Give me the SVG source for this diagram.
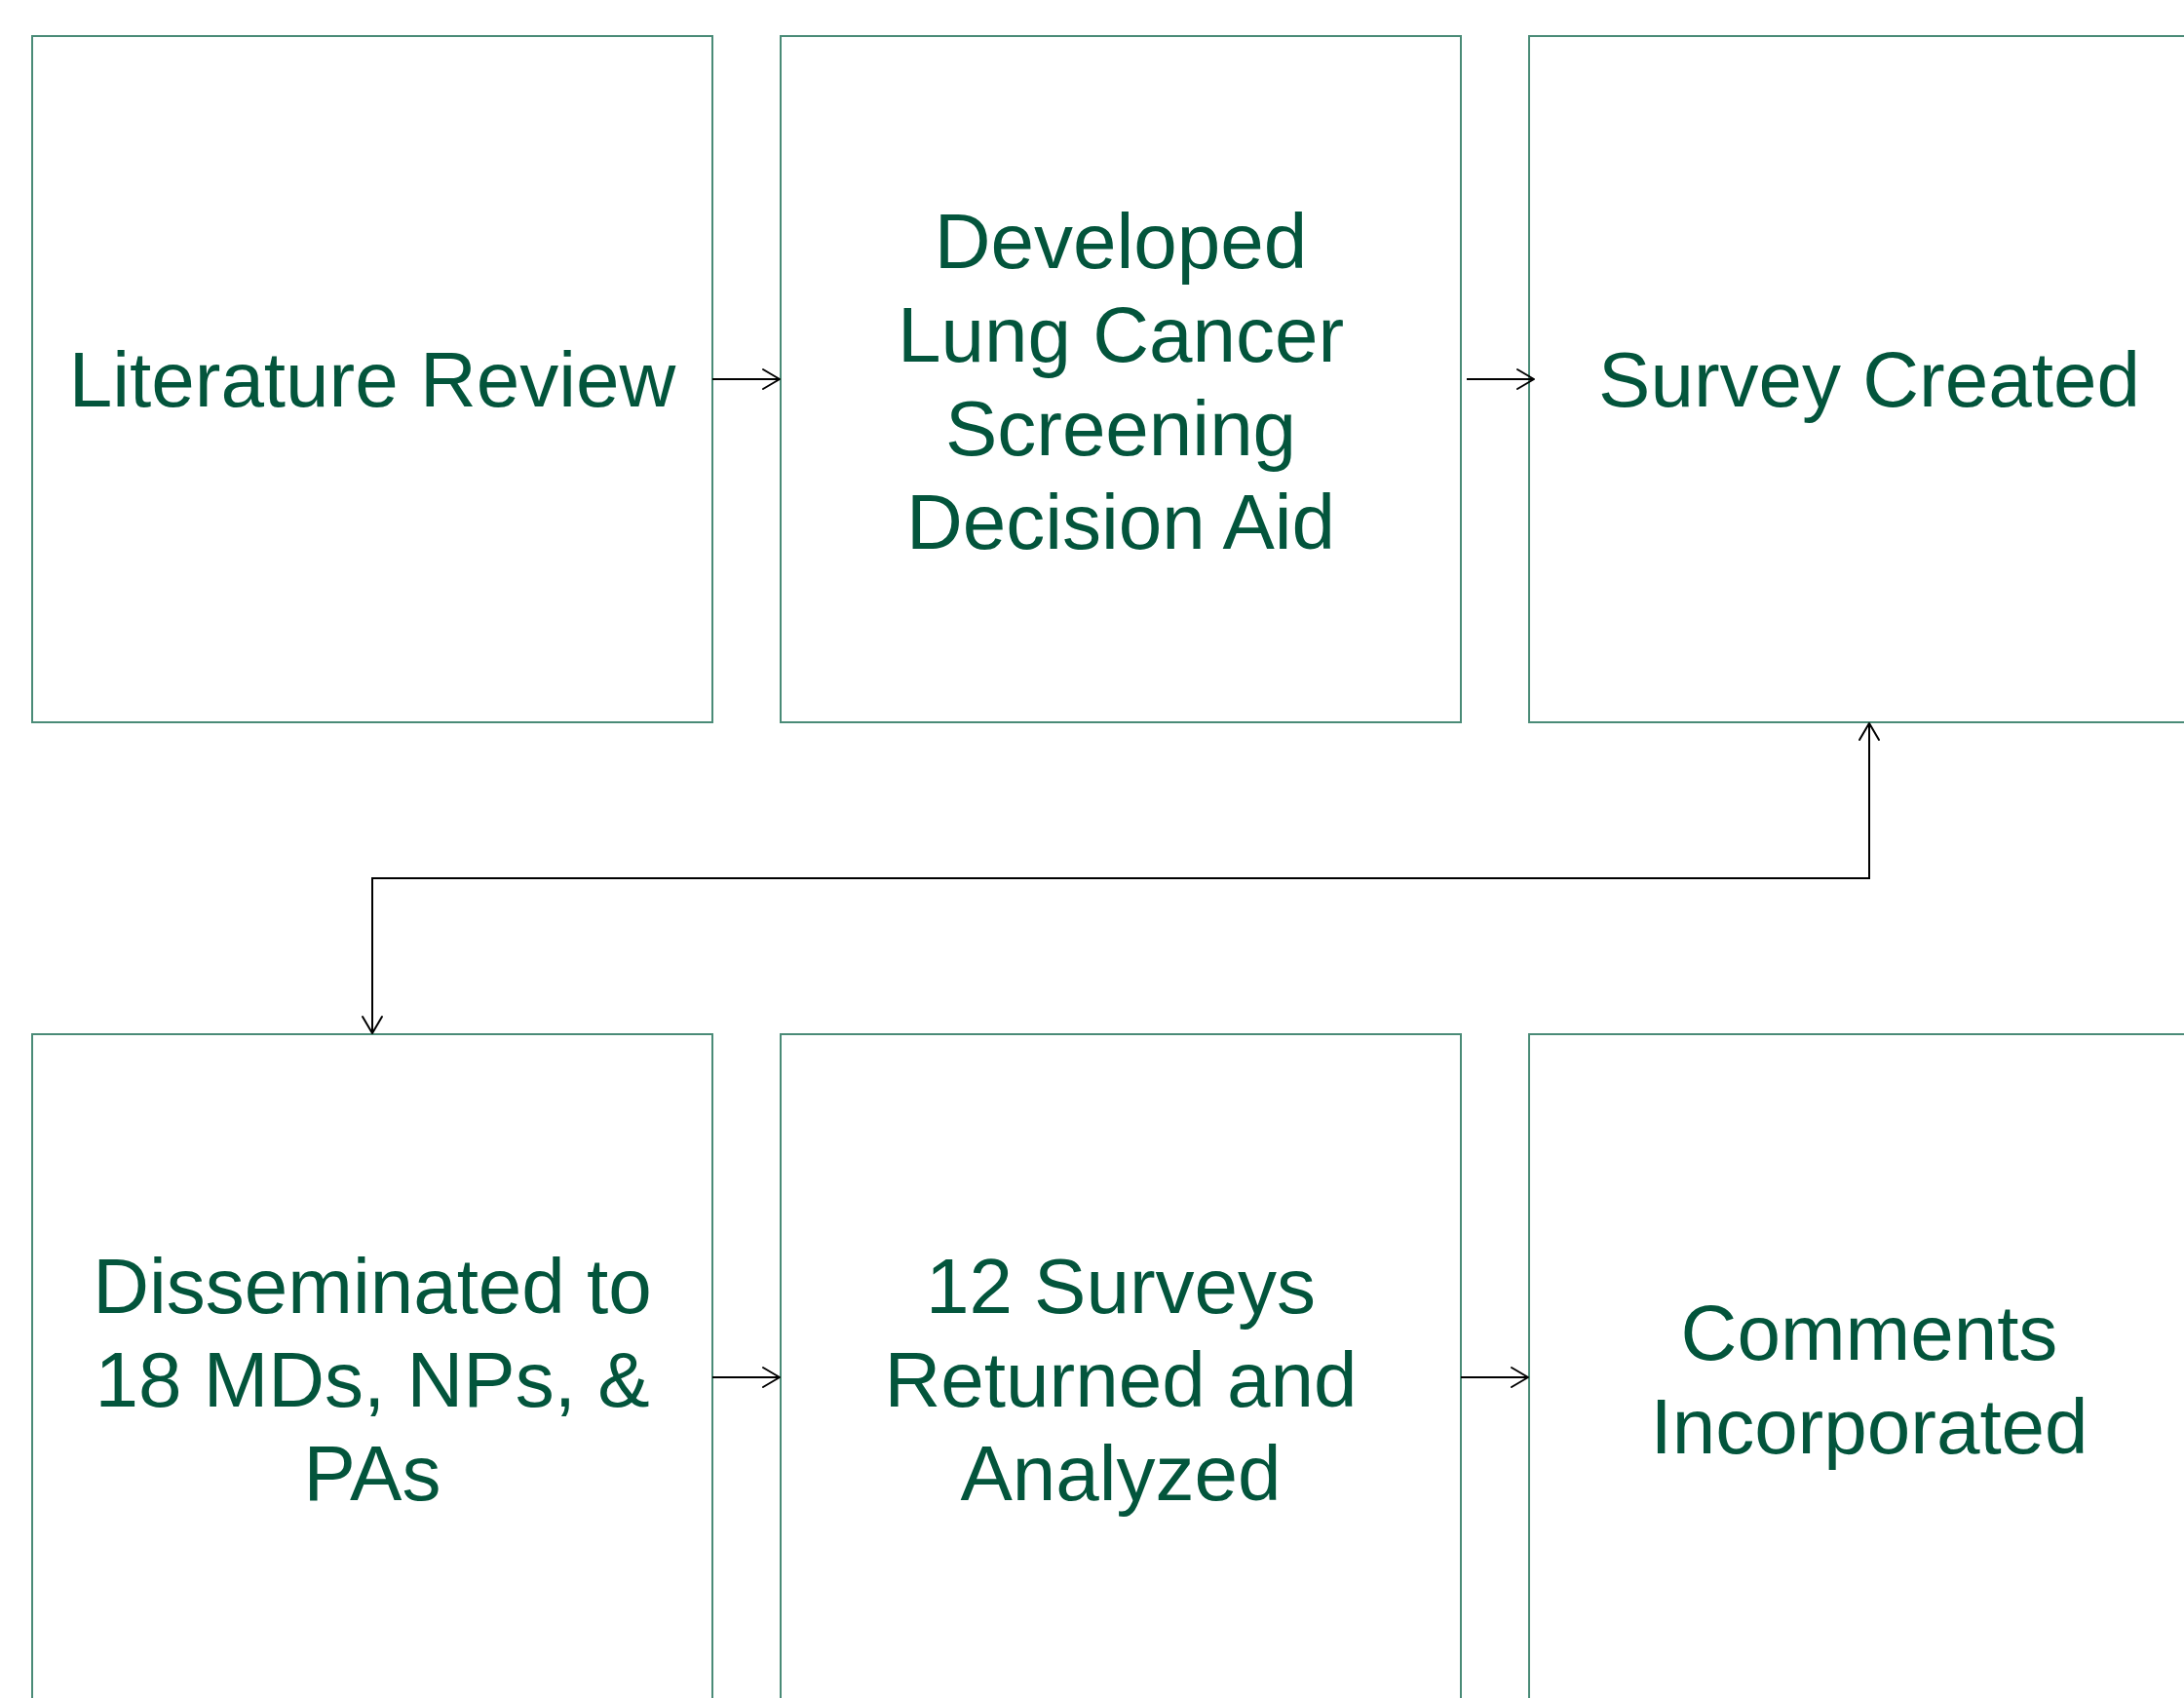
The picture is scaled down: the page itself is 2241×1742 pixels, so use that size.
<svg xmlns="http://www.w3.org/2000/svg" width="2241" height="1742" viewBox="0 0 2241 1742">
<style>
.box{fill:#ffffff;stroke:#4a8b77;stroke-width:2}
.lbl{font-family:"Liberation Sans",Arial,sans-serif;font-size:80px;fill:#03553c;text-anchor:middle}
.conn{fill:none;stroke:#000000;stroke-width:2}
</style>
<defs>
<marker id="arr" markerUnits="userSpaceOnUse" markerWidth="26" markerHeight="26" viewBox="-22 -13 26 26" refX="0" refY="0" orient="auto-start-reverse">
<path d="M-17,-10 L0,0 L-17,10" fill="none" stroke="#000000" stroke-width="2" stroke-linejoin="round" stroke-linecap="round"/>
</marker>
</defs>
<rect x="0" y="0" width="2241" height="1742" fill="#ffffff"/>
<g id="n1">
<rect class="box" x="33" y="37" width="698" height="704"/>
<text class="lbl" x="382" y="417">Literature Review</text>
</g>
<g id="n2">
<rect class="box" x="801" y="37" width="698" height="704"/>
<text class="lbl" x="1150" y="275">Developed</text>
<text class="lbl" x="1150" y="371">Lung Cancer</text>
<text class="lbl" x="1150" y="467">Screening</text>
<text class="lbl" x="1150" y="563">Decision Aid</text>
</g>
<g id="n3">
<rect class="box" x="1569" y="37" width="698" height="704"/>
<text class="lbl" x="1918" y="417">Survey Created</text>
</g>
<g id="n4">
<rect class="box" x="33" y="1061" width="698" height="704"/>
<text class="lbl" x="382" y="1347">Disseminated to</text>
<text class="lbl" x="382" y="1443">18 MDs, NPs, &amp;</text>
<text class="lbl" x="382" y="1539">PAs</text>
</g>
<g id="n5">
<rect class="box" x="801" y="1061" width="698" height="704"/>
<text class="lbl" x="1150" y="1347">12 Surveys</text>
<text class="lbl" x="1150" y="1443">Returned and</text>
<text class="lbl" x="1150" y="1539">Analyzed</text>
</g>
<g id="n6">
<rect class="box" x="1569" y="1061" width="698" height="704"/>
<text class="lbl" x="1918" y="1395">Comments</text>
<text class="lbl" x="1918" y="1491">Incorporated</text>
</g>
<g id="connectors">
<path class="conn" d="M731,389 H800" marker-end="url(#arr)"/>
<path class="conn" d="M1505,389 H1574" marker-end="url(#arr)"/>
<path class="conn" d="M1918,742 V901 H382 V1060" marker-start="url(#arr)" marker-end="url(#arr)"/>
<path class="conn" d="M731,1413 H800" marker-end="url(#arr)"/>
<path class="conn" d="M1499,1413 H1568" marker-end="url(#arr)"/>
</g>
</svg>
